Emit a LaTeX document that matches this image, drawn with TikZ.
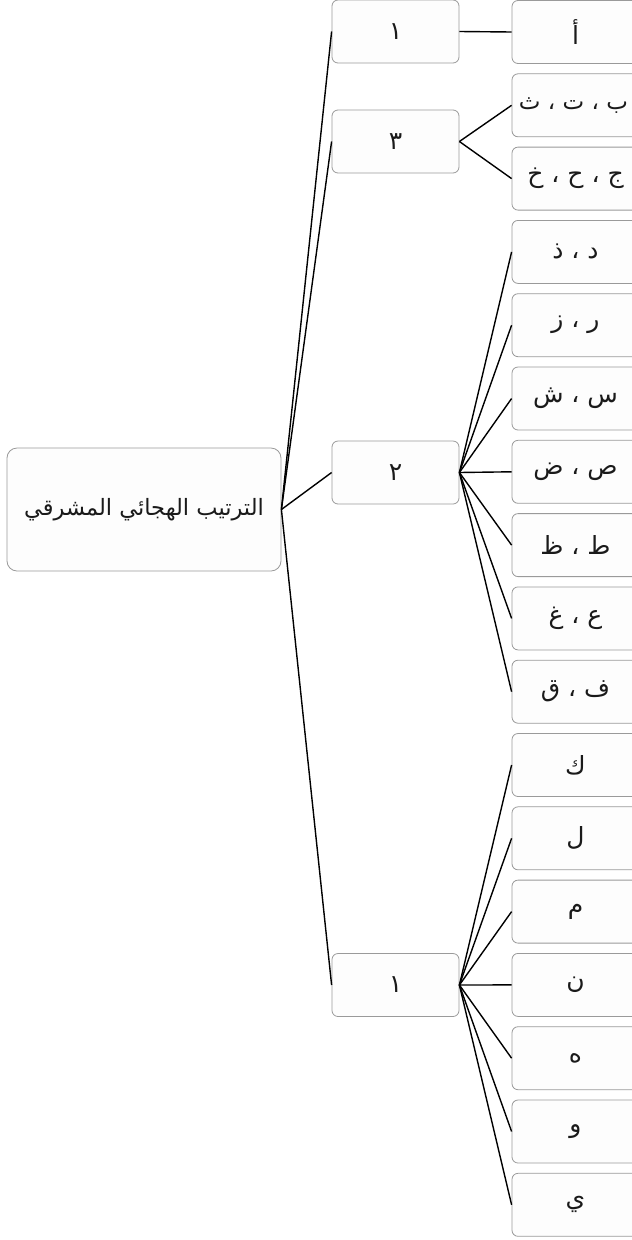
\documentclass[tikz,border=0pt]{standalone}
\usepackage{fontspec}
\usepackage{tikz}
\TeXXeTstate=1
\newfontfamily\arabicfont[Script=Arabic]{DejaVu Sans}
\newcommand{\artext}[1]{\arabicfont\beginR #1\endR}
\definecolor{boxline}{HTML}{9A9A9A}
\definecolor{boxfill}{HTML}{FDFDFD}
\definecolor{inktext}{HTML}{1A1A1A}

\begin{document}
\begin{tikzpicture}[x=1pt,y=-1pt]

        \useasboundingbox (0,0) rectangle (632,1240);

        \begin{scope}[every node/.style={draw=boxline, fill=boxfill, line width=.8pt,
            rounded corners=6pt, minimum width=127pt, minimum height=63pt,
            inner sep=0pt, text=inktext, font=\fontsize{25}{30}\selectfont}]
          % root
          \node[minimum width=274pt, minimum height=123pt, rounded corners=10pt,
            font=\fontsize{22.5}{27}\selectfont] (root) at (144,509.5)
            {\artext{الترتيب الهجائي المشرقي}};

          % groups
          \node (g1) at (395.5,31.5)  {\artext{١}};
          \node (g2) at (395.5,141.5) {\artext{٣}};
          \node (g3) at (395.5,472.5) {\artext{٢}};
          \node (g4) at (395.5,985)   {\artext{١}};

          % letters
          \node (l1)  at (575.5,32)    {\artext{أ}};
          \node (l2)  at (575.5,105.3) {\makebox[0pt]{\kern-4pt\fontsize{23}{28}\selectfont\artext{ب ، ت ، ث}}};
          \node (l3)  at (575.5,178.6) {\artext{ج ، ح ، خ}};
          \node (l4)  at (575.5,251.9) {\artext{د ، ذ}};
          \node (l5)  at (575.5,325.2) {\artext{ر ، ز}};
          \node (l6)  at (575.5,398.5) {\artext{س ، ش}};
          \node (l7)  at (575.5,471.8) {\artext{ص ، ض}};
          \node (l8)  at (575.5,545.1) {\artext{ط ، ظ}};
          \node (l9)  at (575.5,618.4) {\artext{ع ، غ}};
          \node (l10) at (575.5,691.7) {\artext{ف ، ق}};
          \node (l11) at (575.5,765)   {\artext{ك}};
          \node (l12) at (575.5,838.3) {\artext{ل}};
          \node (l13) at (575.5,911.6) {\artext{م}};
          \node (l14) at (575.5,984.9) {\artext{ن}};
          \node (l15) at (575.5,1058.2) {\artext{ه}};
          \node (l16) at (575.5,1131.5) {\artext{و}};
          \node (l17) at (575.5,1204.8) {\artext{ي}};
        \end{scope}

        \begin{scope}[every edge/.style={draw, line width=1.4pt, black}]
          \path (root.east) edge (g1.west);
          \path (root.east) edge (g2.west);
          \path (root.east) edge (g3.west);
          \path (root.east) edge (g4.west);

          \path (g1.east) edge (l1.west);

          \path (g2.east) edge (l2.west);
          \path (g2.east) edge (l3.west);

          \path (g3.east) edge (l4.west);
          \path (g3.east) edge (l5.west);
          \path (g3.east) edge (l6.west);
          \path (g3.east) edge (l7.west);
          \path (g3.east) edge (l8.west);
          \path (g3.east) edge (l9.west);
          \path (g3.east) edge (l10.west);

          \path (g4.east) edge (l11.west);
          \path (g4.east) edge (l12.west);
          \path (g4.east) edge (l13.west);
          \path (g4.east) edge (l14.west);
          \path (g4.east) edge (l15.west);
          \path (g4.east) edge (l16.west);
          \path (g4.east) edge (l17.west);
        \end{scope}

      \end{tikzpicture}
\end{document}
